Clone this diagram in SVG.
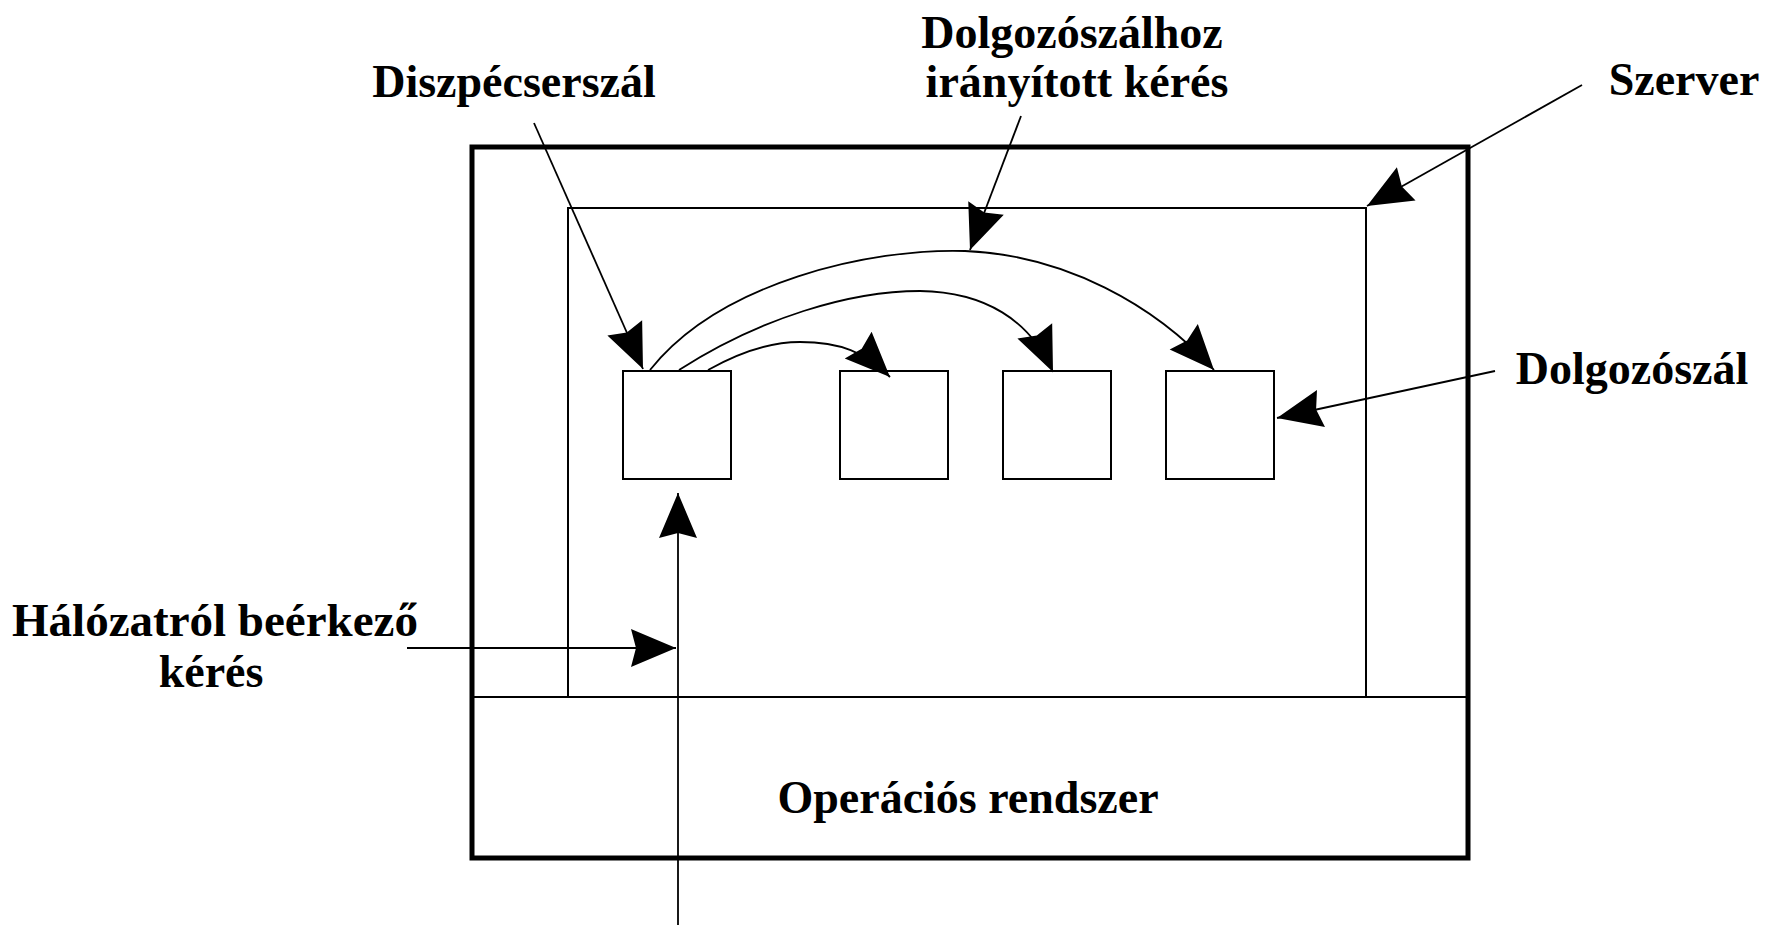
<svg xmlns="http://www.w3.org/2000/svg" width="1781" height="925" viewBox="0 0 1781 925">
<style>
.lbl{font-family:"Liberation Serif","Times New Roman",serif;font-weight:bold;font-size:46px;fill:#000;text-anchor:middle}
.thin{fill:none;stroke:#000;stroke-width:2}
.thick{fill:none;stroke:#000;stroke-width:5}
.box{fill:#fff;stroke:#000;stroke-width:2}
.con{fill:none;stroke:#000;stroke-width:1.8;marker-end:url(#ah)}
</style>
<defs>
<marker id="ah" markerUnits="userSpaceOnUse" viewBox="-46 -20 47 40" markerWidth="47" markerHeight="40" refX="0" refY="0" orient="auto" overflow="visible">
<path d="M0,0 L-45,-19 L-40,0 L-45,19 Z" fill="#000"/>
</marker>
</defs>
<rect width="1781" height="925" fill="#fff"/>
<g id="server-frame">
<rect class="thick" x="472" y="147" width="996" height="711"/>
<line class="thin" x1="472" y1="697" x2="1468" y2="697"/>
</g>
<g id="server-process">
<polyline class="thin" points="568,697 568,208 1366,208 1366,697"/>
</g>
<g id="dispatcher"><rect class="box" x="623" y="371" width="108" height="108"/></g>
<g id="worker1"><rect class="box" x="840" y="371" width="108" height="108"/></g>
<g id="worker2"><rect class="box" x="1003" y="371" width="108" height="108"/></g>
<g id="worker3"><rect class="box" x="1166" y="371" width="108" height="108"/></g>
<g id="connectors">
<path class="con" d="M650,370 C720,282 870,248 965,251 C1065,255 1155,305 1214,370"/>
<path class="con" d="M679,370 C760,318 850,291 920,291 C985,292 1030,320 1053,372"/>
<path class="con" d="M708,370 C740,352 770,342 800,342 C840,342 865,352 890,377"/>
<line class="con" x1="534" y1="123" x2="643" y2="369"/>
<line class="con" x1="1021" y1="116" x2="970" y2="250"/>
<line class="con" x1="1582" y1="85" x2="1367" y2="206"/>
<line class="con" x1="1495" y1="371" x2="1277" y2="418"/>
<line class="con" x1="678" y1="925" x2="678" y2="493"/>
<line class="con" x1="407" y1="648" x2="676" y2="648"/>
</g>
<g id="labels">
<text class="lbl" x="514" y="97">Diszpécserszál</text>
<text class="lbl" x="1072" y="48">Dolgozószálhoz</text>
<text class="lbl" x="1077" y="97">irányított kérés</text>
<text class="lbl" x="1684" y="95">Szerver</text>
<text class="lbl" x="1632" y="384">Dolgozószál</text>
<text class="lbl" x="215" y="636" textLength="406" lengthAdjust="spacingAndGlyphs">Hálózatról beérkező</text>
<text class="lbl" x="211" y="687">kérés</text>
<text class="lbl" x="968" y="813">Operációs rendszer</text>
</g>
</svg>
